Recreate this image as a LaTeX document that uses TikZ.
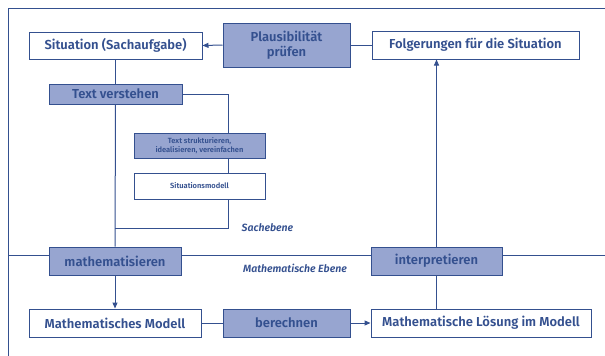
\documentclass[tikz,border=0pt]{standalone}
\usepackage{fontspec}
\setmainfont{Fira Sans}[BoldFont={Fira Sans SemiBold}, BoldItalicFont={Fira Sans SemiBold Italic}]
\usetikzlibrary{arrows.meta,positioning}
\definecolor{mblue}{HTML}{34508F}
\definecolor{mfill}{HTML}{97A5D0}

\begin{document}
\begin{tikzpicture}
			[
				x=1pt, y=-1pt,
				align=center,
				box/.style={draw=mblue, line width=1pt, fill=white, text=mblue, inner sep=0pt,
					font=\bfseries\fontsize{13}{14.5}\selectfont},
				act/.style={box, fill=mfill},
				small/.style={font=\bfseries\fontsize{7.5}{9}\selectfont},
				label/.style={draw=none, fill=none, text=mblue, font=\bfseries\itshape\fontsize{10.5}{12}\selectfont},
				link/.style={draw=mblue, line width=1pt},
				arrow/.style={link, -{Triangle[length=6pt,width=5pt]}}
			]
			\useasboundingbox (0,0) rectangle (605,356);

			% frame and level line
			\coordinate (tr) at (605,8);
			\coordinate (tl) at (8,8);
			\coordinate (bl) at (8,356);
			\coordinate (lvlL) at (8,255);
			\coordinate (lvlR) at (605,255);
			\draw[link] (tr) -- (tl) -- (bl);
			\draw[link] (lvlL) -- (lvlR);

			% helper coordinates
			\coordinate (side) at (228,0);
			\coordinate (join) at (115,228);

			% boxes
			\node[box, minimum width=173pt, minimum height=27pt] (sit) at ( 115.5,  45.5) {Situation (Sachaufgabe)};
			\node[act, minimum width=127pt, minimum height=44pt] (plaus) at ( 286.5,  45.0) {Plausibilität\\prüfen};
			\node[box, minimum width=207pt, minimum height=28pt] (folg) at ( 475.5,  45.0) {Folgerungen für die Situation};
			\node[act, minimum width=133pt, minimum height=20pt] (verst) at ( 115.5,  94.0) {Text verstehen};
			\node[act, small, minimum width=131pt, minimum height=25pt] (struk) at ( 199.5, 145.5) {Text strukturieren,\\idealisieren, vereinfachen};
			\node[box, small, minimum width=131pt, minimum height=26pt] (smod) at ( 199.5, 186.0) {Situationsmodell};
			\node[act, minimum width=132pt, minimum height=28pt] (mathe) at ( 115.0, 261.0) {mathematisieren};
			\node[act, minimum width=131pt, minimum height=28pt] (interp) at ( 436.5, 261.0) {interpretieren};
			\node[box, minimum width=172pt, minimum height=28pt] (mmod) at ( 115.0, 323.0) {Mathematisches Modell};
			\node[act, minimum width=127pt, minimum height=28pt] (ber) at ( 286.5, 323.0) {berechnen};
			\node[box, minimum width=220pt, minimum height=28pt] (loes) at ( 481.0, 323.0) {Mathematische Lösung im Modell};

			% level labels
			\node[label] (sach) at ( 267.5, 228.0 ) {Sachebene};
			\node[label] (ebene) at ( 295.0, 268.0 ) {Mathematische Ebene};

			% connections
			\draw[arrow] (plaus.west) -- (sit.east);
			\draw[link] (plaus.east) -- (folg.west);
			\draw[link] (sit.south) -- (verst.north);
			\draw[link] (verst.south) -- (mathe.north);
			\draw[link] (verst.east) -| (side |- struk.north);
			\draw[link] (side |- struk.south) -- (side |- smod.north);
			\draw[link] (side |- smod.south) |- (join);
			\draw[arrow] (mathe.south) -- (mmod.north);
			\draw[link] (mmod.east) -- (ber.west);
			\draw[arrow] (ber.east) -- (loes.west);
			\draw[link] (interp.south) -- (interp.south |- loes.north);
			\draw[arrow] (interp.north) -- (interp.north |- folg.south);

		\end{tikzpicture}
\end{document}
